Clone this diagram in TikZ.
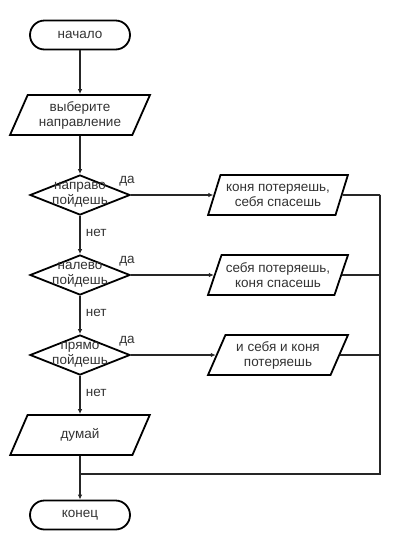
\documentclass[tikz,border=0pt]{standalone}
\usepackage{fontspec}
\setmainfont{Liberation Sans}
\usetikzlibrary{shapes.geometric,arrows.meta}
\begin{document}
\begin{tikzpicture}[x=1pt,y=-1pt,
 every node/.style={font=\fontsize{13.5}{15}\selectfont, text=black!80},
 term/.style={draw, line width=1.8pt, rounded corners=14.5pt, minimum width=100pt, minimum height=29pt, inner sep=0pt},
 io/.style={draw, line width=1.8pt, trapezium, trapezium left angle=63.43, trapezium right angle=116.57, trapezium stretches=true, minimum width=140pt, minimum height=40pt, inner xsep=0pt, inner ysep=0pt, align=center},
 dec/.style={draw, line width=1.8pt, diamond, minimum width=100pt, minimum height=40pt, inner sep=0pt},
 dtext/.style={align=center, inner sep=0pt, font=\fontsize{13.5}{15}\selectfont},
 conn/.style={line width=1.6pt, draw=black!85},
 arr/.style={conn, -{Latex[length=5pt,width=4.5pt]}},
 lbl/.style={inner sep=0pt}
]
\useasboundingbox (0,0) rectangle (400,550);
\node[term] (start) at (80,35) {начало};
\node[io] (p1) at (80,115) {выберите\\направление};
\node[dec] (d1) at (80,195) {};
\node[dtext] (t1) at (80,195) {направо\\пойдешь};
\node[dec] (d2) at (80,275) {};
\node[dtext] (t2) at (80,275) {налево\\пойдешь};
\node[dec] (d3) at (80,355) {};
\node[dtext] (t3) at (80,355) {прямо\\пойдешь};
\node[io] (p4) at (80,435) {думай};
\node[term] (end) at (80,515) {конец};
\node[io] (r1) at (278,195) {коня потеряешь,\\себя спасешь};
\node[io] (r2) at (278,275) {себя потеряешь,\\коня спасешь};
\node[io] (r3) at (278,355) {и себя и коня\\потеряешь};
\coordinate (c1) at (380,195);
\coordinate (c2) at (380,275);
\coordinate (c3) at (380,355);
\coordinate (c4) at (380,474);
\coordinate (m) at (80,474);
\draw[arr] (start) -- (p1);
\draw[arr] (p1) -- (d1);
\draw[arr] (d1) -- node[lbl, right=5pt, pos=0.45] (n1) {нет} (d2);
\draw[arr] (d2) -- node[lbl, right=5pt, pos=0.45] (n2) {нет} (d3);
\draw[arr] (d3) -- node[lbl, right=5pt, pos=0.45] (n3) {нет} (p4);
\draw[arr] (p4) -- (end);
\draw[arr] (d1) -- (r1);
\draw[arr] (d2) -- (r2);
\draw[arr] (d3) -- (r3);
\node[lbl] (y1) at (127,181) {да};
\node[lbl] (y2) at (127,261) {да};
\node[lbl] (y3) at (127,341) {да};
\draw[conn] (r1) -- (c1);
\draw[conn] (r2) -- (c2);
\draw[conn] (r3) -- (c3);
\draw[conn] (c1) -- (c4) -- (m);
\end{tikzpicture}
\end{document}
